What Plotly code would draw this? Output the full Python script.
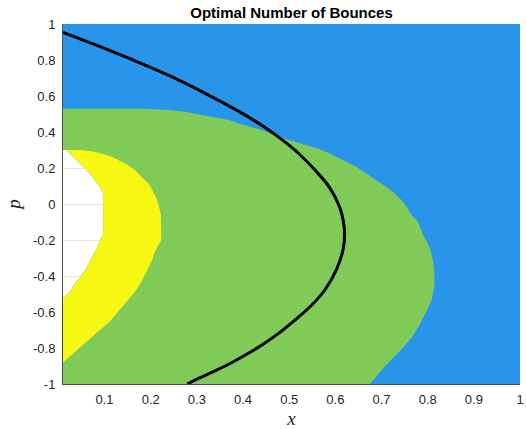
import plotly.graph_objects as go

# ---- axis limits / ticks ----
X_RANGE = [0.01, 1.0]
P_RANGE = [-1.0, 1.0]
x_tick_vals = [0.1, 0.2, 0.3, 0.4, 0.5, 0.6, 0.7, 0.8, 0.9, 1.0]
x_tick_text = ["0.1", "0.2", "0.3", "0.4", "0.5", "0.6", "0.7", "0.8", "0.9", "1"]
p_tick_vals = [1.0, 0.8, 0.6, 0.4, 0.2, 0.0, -0.2, -0.4, -0.6, -0.8, -1.0]
p_tick_text = ["1", "0.8", "0.6", "0.4", "0.2", "0", "-0.2", "-0.4", "-0.6", "-0.8", "-1"]

# ---- region boundaries ----
# white (no value) region boundary, top -> bottom
white_x = [0.01, 0.018, 0.025, 0.032, 0.039, 0.046, 0.054, 0.061, 0.068, 0.075, 0.082, 0.090,
           0.097, 0.097, 0.090, 0.082, 0.075, 0.068, 0.061, 0.054, 0.046, 0.039, 0.032,
           0.025, 0.018, 0.01]
white_p = [0.30, 0.30, 0.281, 0.259, 0.241, 0.222, 0.207, 0.189, 0.17, 0.148, 0.124, 0.096,
           0.059, -0.172, -0.20, -0.256, -0.283, -0.32, -0.357, -0.385, -0.413, -0.431, -0.459,
           -0.487, -0.506, -0.524]

# yellow region outer boundary, top -> bottom
yellow_x = [0.01, 0.05, 0.075, 0.097, 0.115, 0.13, 0.144, 0.155, 0.166, 0.176, 0.187, 0.198,
            0.205, 0.213, 0.218, 0.222, 0.223, 0.209, 0.202, 0.191, 0.18, 0.166, 0.147, 0.129,
            0.111, 0.086, 0.061, 0.035, 0.01]
yellow_p = [0.30, 0.30, 0.291, 0.278, 0.263, 0.244, 0.226, 0.207, 0.189, 0.161, 0.133, 0.106,
            0.068, 0.031, -0.015, -0.061, -0.20, -0.265, -0.32, -0.376, -0.431, -0.487, -0.543,
            -0.598, -0.654, -0.709, -0.765, -0.82, -0.88]

# green region outer boundary, top -> bottom
green_x = [0.01, 0.187, 0.24, 0.28, 0.31, 0.34, 0.37, 0.387, 0.41, 0.43, 0.442, 0.487, 0.523,
           0.562, 0.587, 0.617, 0.645, 0.667, 0.689, 0.71, 0.729, 0.743, 0.754, 0.765, 0.779,
           0.79, 0.805, 0.812, 0.815, 0.814, 0.808, 0.797, 0.783, 0.765, 0.74, 0.711, 0.693,
           0.675]
green_p = [0.529, 0.529, 0.522, 0.51, 0.494, 0.48, 0.467, 0.45, 0.433, 0.42, 0.41, 0.365, 0.337,
           0.309, 0.282, 0.244, 0.207, 0.17, 0.133, 0.096, 0.059, 0.022, -0.015, -0.061, -0.098,
           -0.172, -0.246, -0.32, -0.40, -0.46, -0.539, -0.594, -0.669, -0.743, -0.817, -0.891,
           -0.946, -1.0]

# black curve
curve_x = [0.01, 0.082, 0.162, 0.237, 0.318, 0.392, 0.443, 0.485, 0.520, 0.559, 0.588, 0.609,
           0.617, 0.620, 0.617, 0.603, 0.578, 0.549, 0.513, 0.477, 0.441, 0.405, 0.370, 0.336,
           0.306, 0.279]
curve_p = [0.954, 0.883, 0.80, 0.717, 0.615, 0.513, 0.433, 0.356, 0.282, 0.18, 0.09, -0.015,
           -0.09, -0.17, -0.25, -0.36, -0.475, -0.561, -0.644, -0.719, -0.783, -0.839, -0.889,
           -0.931, -0.966, -1.0]

COL_BLUE = "rgb(40,149,234)"
COL_GREEN = "rgb(128,202,88)"
COL_YELLOW = "rgb(247,247,20)"

wrev_x = white_x[::-1]
wrev_p = white_p[::-1]

# blue: full box minus white hole
blue_poly_x = [X_RANGE[0], X_RANGE[1], X_RANGE[1], X_RANGE[0]] + wrev_x
blue_poly_p = [P_RANGE[1], P_RANGE[1], P_RANGE[0], P_RANGE[0]] + wrev_p
# green: inside green boundary minus white hole
green_poly_x = green_x + [X_RANGE[0]] + wrev_x
green_poly_p = green_p + [P_RANGE[0]] + wrev_p
# yellow: inside yellow boundary minus white hole
yellow_poly_x = yellow_x + wrev_x
yellow_poly_p = yellow_p + wrev_p

fig = go.Figure()
for px_, pp_, col in [(blue_poly_x, blue_poly_p, COL_BLUE),
                      (green_poly_x, green_poly_p, COL_GREEN),
                      (yellow_poly_x, yellow_poly_p, COL_YELLOW)]:
    fig.add_trace(go.Scatter(x=px_, y=pp_, mode="lines", fill="toself", fillcolor=col,
                             line=dict(width=0, color=col), hoverinfo="skip", showlegend=False))

fig.add_trace(go.Scatter(x=curve_x, y=curve_p, mode="lines",
                         line=dict(color="black", width=3, shape="spline", smoothing=1.0),
                         hoverinfo="skip", showlegend=False))

tick_font = dict(family="Liberation Sans, Arial, sans-serif", size=13, color="#262626")
label_font = dict(family="Liberation Serif, Times New Roman, serif", size=19, color="#262626")

fig.update_layout(
    width=526, height=429,
    margin=dict(l=63, r=6, t=24, b=45, autoexpand=False),
    paper_bgcolor="white", plot_bgcolor="white",
    title=dict(text="<b>Optimal Number of Bounces</b>", xref="paper", x=0.5, xanchor="center",
               yref="container", y=0.983, yanchor="top",
               font=dict(family="Liberation Sans, Arial, sans-serif", size=15, color="black")),
    xaxis=dict(range=X_RANGE, tickvals=x_tick_vals, ticktext=x_tick_text, tickfont=tick_font,
               showgrid=True, gridcolor="#E2E2E2", zeroline=False, showline=True,
               linecolor="#4D4D4D", linewidth=1, ticks="", ticklabelstandoff=3,
               ticklabeloverflow="allow", automargin=False,
               title=dict(text="<i>x</i>", font=label_font, standoff=10)),
    yaxis=dict(range=P_RANGE, tickvals=p_tick_vals, ticktext=p_tick_text, tickfont=tick_font,
               showgrid=True, gridcolor="#E2E2E2", zeroline=False, showline=True,
               linecolor="#4D4D4D", linewidth=1, ticks="", ticklabelstandoff=4,
               automargin=False,
               title=dict(text="<i>p</i>", font=label_font, standoff=7)),
)

fig.write_html("out.html", config={"displayModeBar": False},
               post_script="document.body.style.margin='0';")
